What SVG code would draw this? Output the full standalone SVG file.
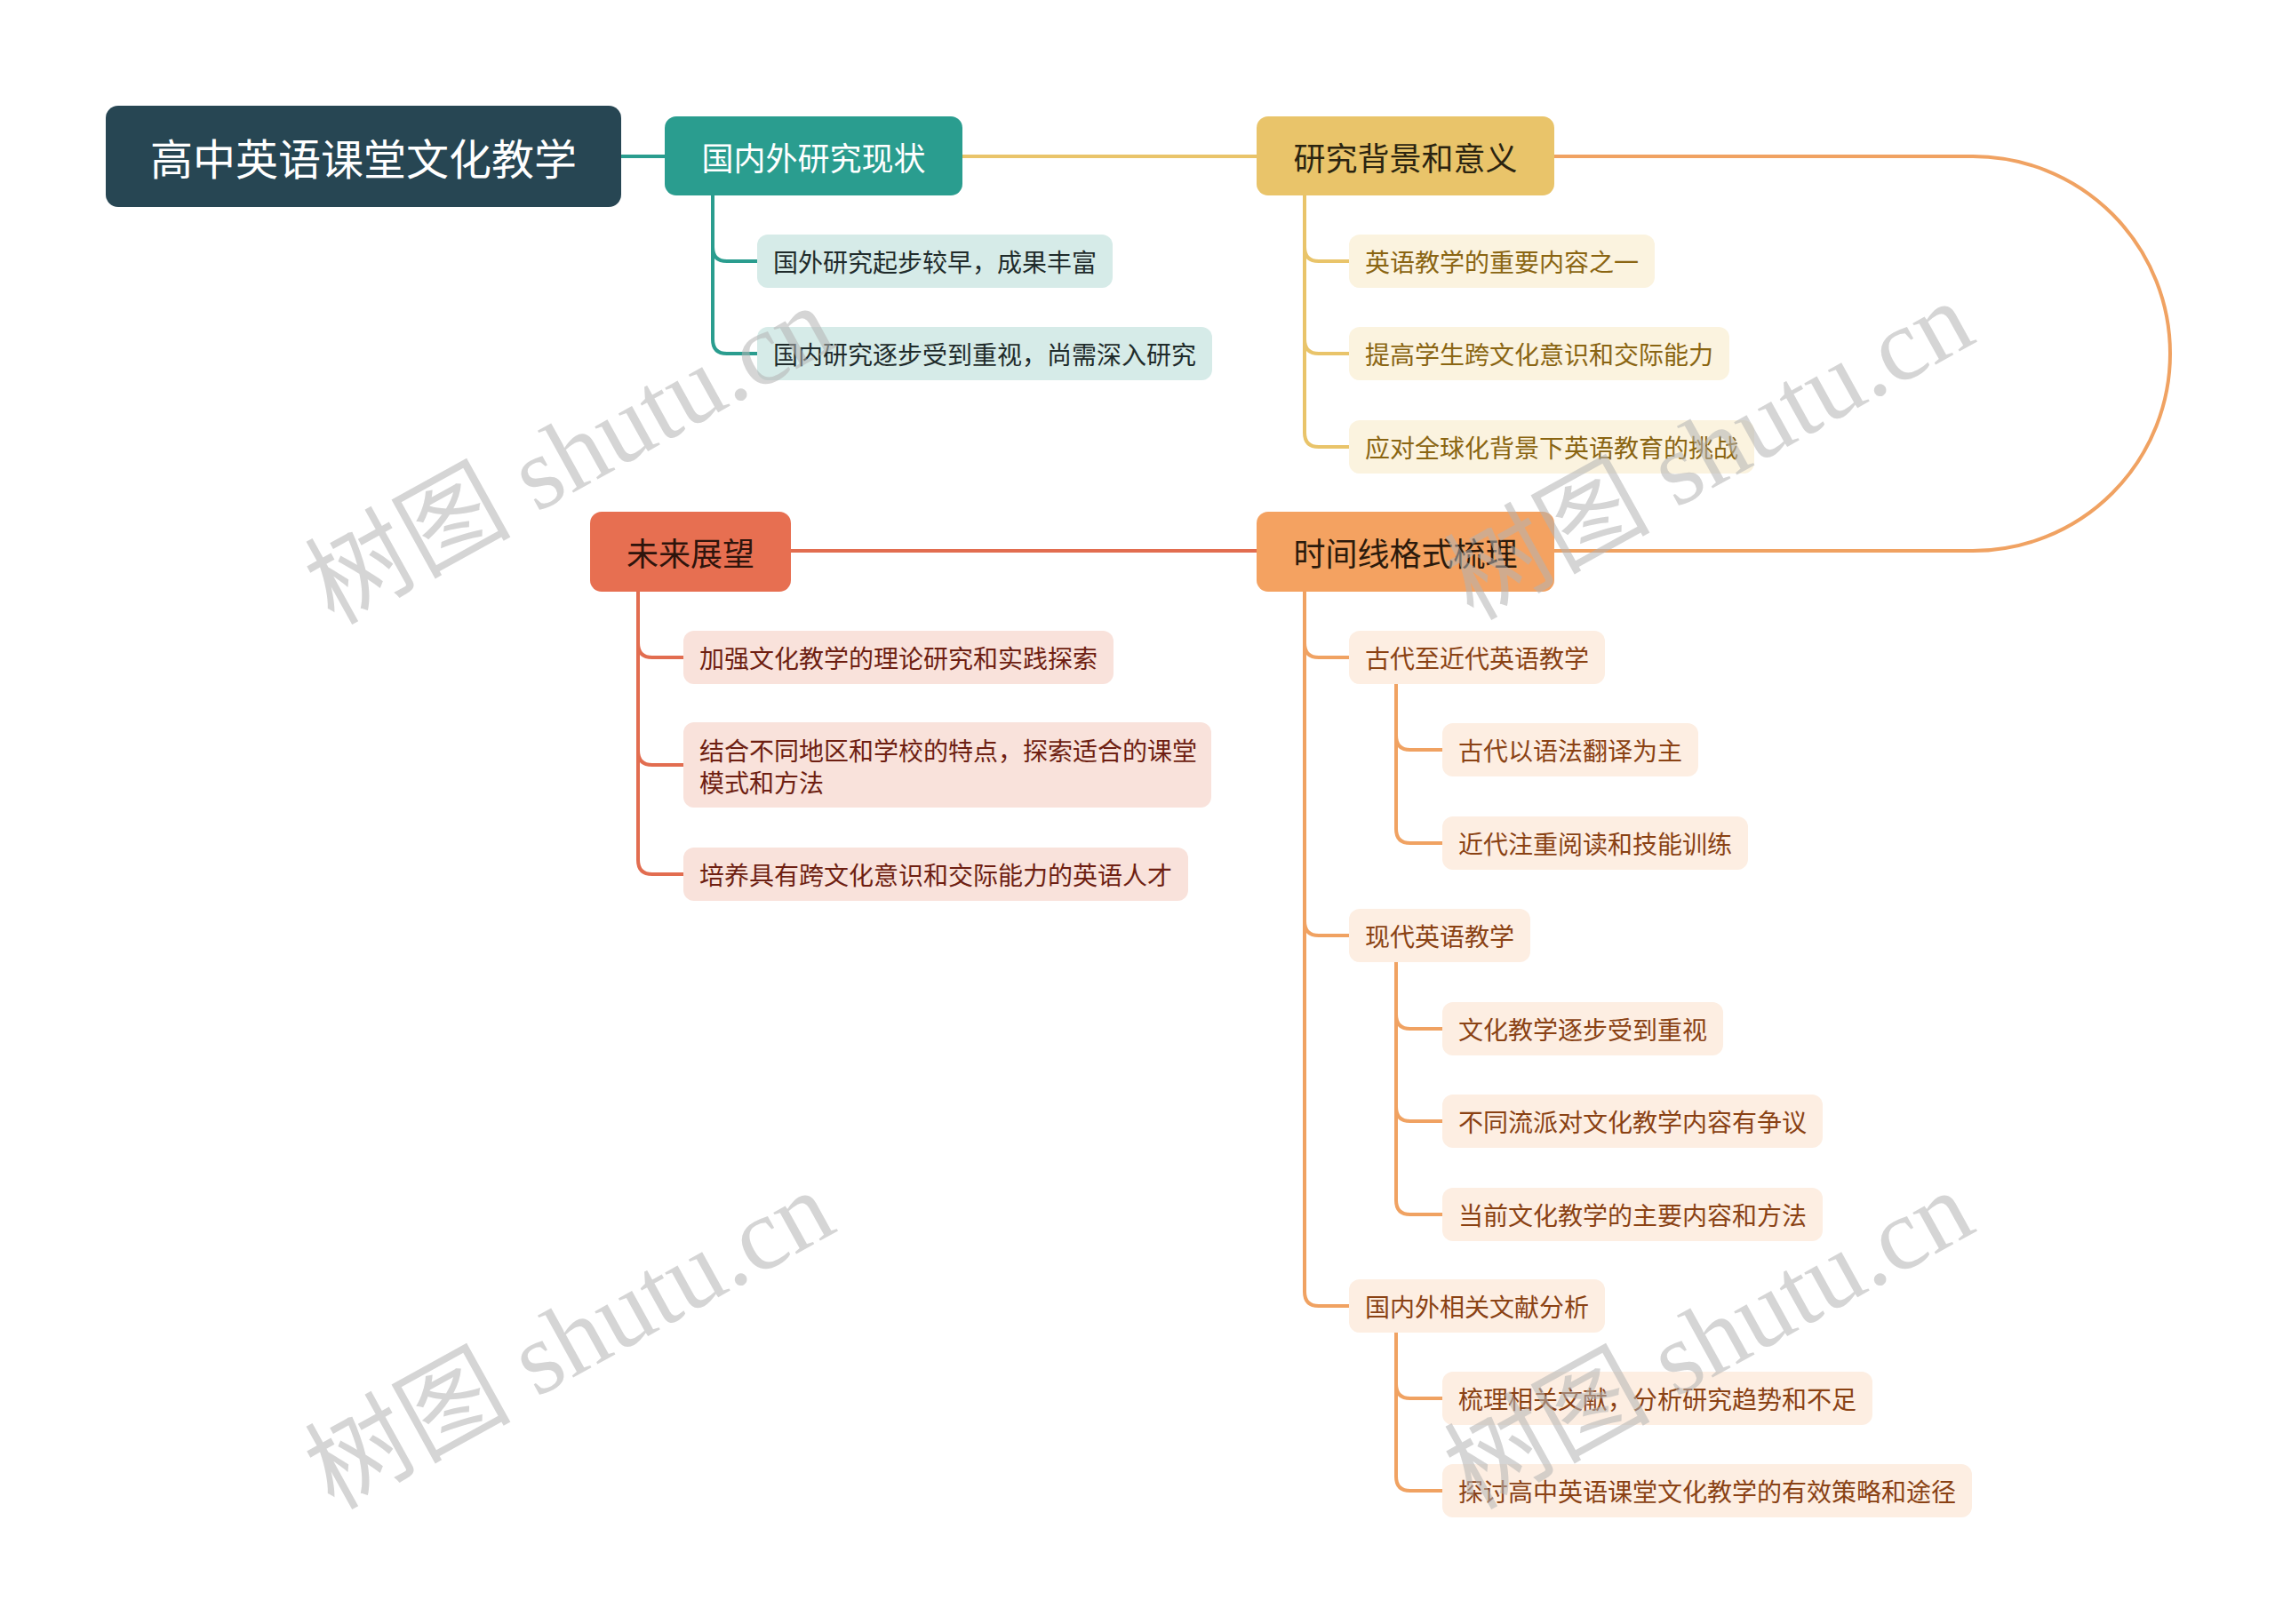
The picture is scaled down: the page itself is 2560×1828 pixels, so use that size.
<svg xmlns="http://www.w3.org/2000/svg" width="2560" height="1828" viewBox="0 0 2560 1828">
<style>
text{font-family:"Noto Sans CJK SC","Noto Sans",sans-serif;dominant-baseline:central}
.main{font-size:36px}
.leaf{font-size:28px}
.c{fill:none;stroke-width:4;stroke-linecap:round}
.teal{stroke:#2a9d8f}.yel{stroke:#e9c46a}.org{stroke:#f0a262}.red{stroke:#e26d50}
.bt{fill:#d6ebe8}.by{fill:#fbf3df}.bo{fill:#fdeee2}.br{fill:#f9e2db}
.tt{fill:#1f2b2b}.ty{fill:#8a6512}.to{fill:#8a4214}.tr{fill:#6e1f12}
.wm{font-family:"Liberation Serif","Noto Sans CJK SC",serif;font-size:116px;fill:#b4b4b4;opacity:0.55;dominant-baseline:auto}
</style>
<rect width="2560" height="1828" fill="#ffffff"/>
<g id="connectors">
<path class="c teal" d="M699 176 H748"/>
<path class="c yel" d="M1083 176 H1414"/>
<path class="c org" d="M1749 176 H2220 A222 222 0 0 1 2220 620 H1749"/>
<path class="c red" d="M1414 620 H890"/>
<path class="c teal" d="M802 220 V278 Q802 294 818 294 H852"/>
<path class="c teal" d="M802 220 V382 Q802 398 818 398 H852"/>
<path class="c yel" d="M1468 220 V278 Q1468 294 1484 294 H1518"/>
<path class="c yel" d="M1468 220 V382 Q1468 398 1484 398 H1518"/>
<path class="c yel" d="M1468 220 V487 Q1468 503 1484 503 H1518"/>
<path class="c org" d="M1468 666 V724 Q1468 740 1484 740 H1518"/>
<path class="c org" d="M1468 666 V1037 Q1468 1053 1484 1053 H1518"/>
<path class="c org" d="M1468 666 V1454 Q1468 1470 1484 1470 H1518"/>
<path class="c org" d="M1571 770 V828 Q1571 844 1587 844 H1623"/>
<path class="c org" d="M1571 770 V933 Q1571 949 1587 949 H1623"/>
<path class="c org" d="M1571 1083 V1142 Q1571 1158 1587 1158 H1623"/>
<path class="c org" d="M1571 1083 V1246 Q1571 1262 1587 1262 H1623"/>
<path class="c org" d="M1571 1083 V1351 Q1571 1367 1587 1367 H1623"/>
<path class="c org" d="M1571 1500 V1558 Q1571 1574 1587 1574 H1623"/>
<path class="c org" d="M1571 1500 V1662 Q1571 1678 1587 1678 H1623"/>
<path class="c red" d="M718 666 V724 Q718 740 734 740 H769"/>
<path class="c red" d="M718 666 V845 Q718 861 734 861 H769"/>
<path class="c red" d="M718 666 V968 Q718 984 734 984 H769"/>
</g>
<g id="root"><rect x="119" y="119" width="580" height="114" rx="14" fill="#274653"/><text x="409" y="176" font-size="48" fill="#ffffff" text-anchor="middle">高中英语课堂文化教学</text></g>
<g id="n-guoneiwai"><rect x="748" y="131" width="335" height="89" rx="13" fill="#2a9d8f"/><text class="main" x="915.5" y="176" fill="#ffffff" text-anchor="middle">国内外研究现状</text></g>
<g id="n-beijing"><rect x="1414" y="131" width="335" height="89" rx="13" fill="#e9c46a"/><text class="main" x="1581.5" y="176" fill="#2b2410" text-anchor="middle">研究背景和意义</text></g>
<g id="n-shijian"><rect x="1414" y="576" width="335" height="90" rx="13" fill="#f4a261"/><text class="main" x="1581.5" y="621" fill="#2b1a0c" text-anchor="middle">时间线格式梳理</text></g>
<g id="n-weilai"><rect x="664" y="576" width="226" height="90" rx="13" fill="#e76f51"/><text class="main" x="777" y="621" fill="#2e140c" text-anchor="middle">未来展望</text></g>
<g id="t1"><rect class="bt" x="852" y="264" width="400" height="60" rx="12"/><text class="leaf tt" x="870" y="294">国外研究起步较早，成果丰富</text></g>
<g id="t2"><rect class="bt" x="852" y="368" width="512" height="60" rx="12"/><text class="leaf tt" x="870" y="398">国内研究逐步受到重视，尚需深入研究</text></g>
<g id="y1"><rect class="by" x="1518" y="264" width="344" height="60" rx="12"/><text class="leaf ty" x="1536" y="294">英语教学的重要内容之一</text></g>
<g id="y2"><rect class="by" x="1518" y="368" width="428" height="60" rx="12"/><text class="leaf ty" x="1536" y="398">提高学生跨文化意识和交际能力</text></g>
<g id="y3"><rect class="by" x="1518" y="473" width="456" height="60" rx="12"/><text class="leaf ty" x="1536" y="503">应对全球化背景下英语教育的挑战</text></g>
<g id="o1"><rect class="bo" x="1518" y="710" width="288" height="60" rx="12"/><text class="leaf to" x="1536" y="740">古代至近代英语教学</text></g>
<g id="o1a"><rect class="bo" x="1623" y="814" width="288" height="60" rx="12"/><text class="leaf to" x="1641" y="844">古代以语法翻译为主</text></g>
<g id="o1b"><rect class="bo" x="1623" y="919" width="344" height="60" rx="12"/><text class="leaf to" x="1641" y="949">近代注重阅读和技能训练</text></g>
<g id="o2"><rect class="bo" x="1518" y="1023" width="204" height="60" rx="12"/><text class="leaf to" x="1536" y="1053">现代英语教学</text></g>
<g id="o2a"><rect class="bo" x="1623" y="1128" width="316" height="60" rx="12"/><text class="leaf to" x="1641" y="1158">文化教学逐步受到重视</text></g>
<g id="o2b"><rect class="bo" x="1623" y="1232" width="428" height="60" rx="12"/><text class="leaf to" x="1641" y="1262">不同流派对文化教学内容有争议</text></g>
<g id="o2c"><rect class="bo" x="1623" y="1337" width="428" height="60" rx="12"/><text class="leaf to" x="1641" y="1367">当前文化教学的主要内容和方法</text></g>
<g id="o3"><rect class="bo" x="1518" y="1440" width="288" height="60" rx="12"/><text class="leaf to" x="1536" y="1470">国内外相关文献分析</text></g>
<g id="o3a"><rect class="bo" x="1623" y="1544" width="484" height="60" rx="12"/><text class="leaf to" x="1641" y="1574">梳理相关文献，分析研究趋势和不足</text></g>
<g id="o3b"><rect class="bo" x="1623" y="1648" width="596" height="60" rx="12"/><text class="leaf to" x="1641" y="1678">探讨高中英语课堂文化教学的有效策略和途径</text></g>
<g id="r1"><rect class="br" x="769" y="710" width="484" height="60" rx="12"/><text class="leaf tr" x="787" y="740">加强文化教学的理论研究和实践探索</text></g>
<g id="r2"><rect class="br" x="769" y="813" width="594" height="96" rx="12"/><text class="leaf tr" x="787" y="844">结合不同地区和学校的特点，探索适合的课堂</text><text class="leaf tr" x="787" y="880">模式和方法</text></g>
<g id="r3"><rect class="br" x="769" y="954" width="568" height="60" rx="12"/><text class="leaf tr" x="787" y="984">培养具有跨文化意识和交际能力的英语人才</text></g>
<g id="watermarks">
<text class="wm" transform="translate(642 514) rotate(-29)" text-anchor="middle" y="37">树图 shutu.cn</text>
<text class="wm" transform="translate(642 1510) rotate(-29)" text-anchor="middle" y="37">树图 shutu.cn</text>
<text class="wm" transform="translate(1924 509) rotate(-29)" text-anchor="middle" y="37">树图 shutu.cn</text>
<text class="wm" transform="translate(1924 1510) rotate(-29)" text-anchor="middle" y="37">树图 shutu.cn</text>
</g>
</svg>
